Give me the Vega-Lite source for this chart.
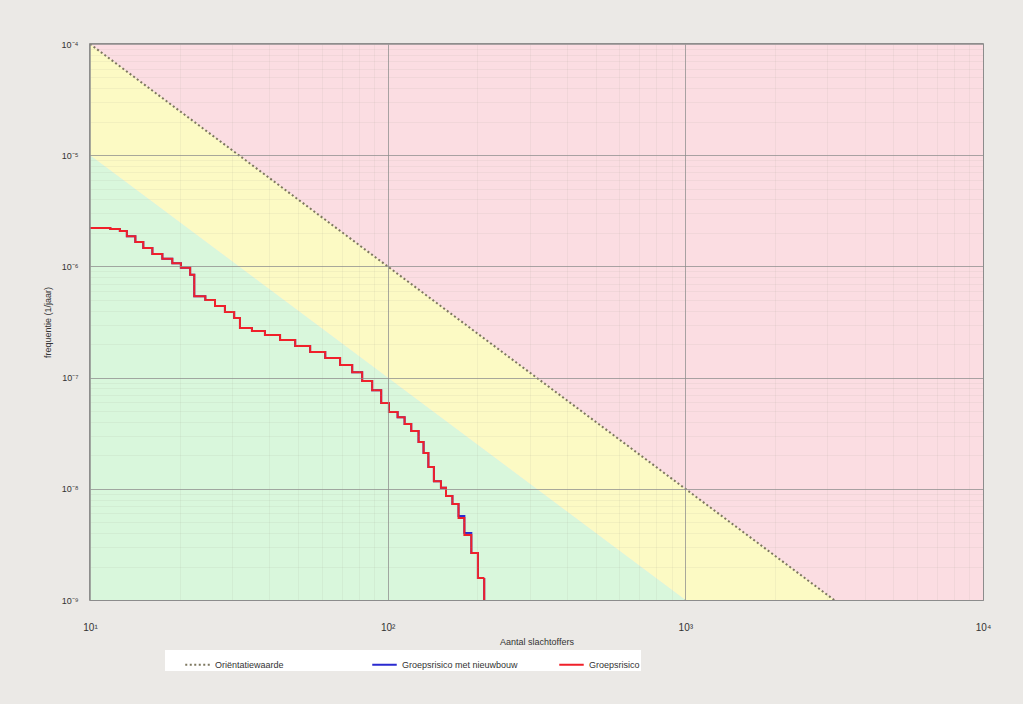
{
  "$schema": "https://vega.github.io/schema/vega-lite/v6.json",
  "width": 893,
  "height": 556,
  "autosize": {"type": "none"},
  "padding": {"left": 90, "top": 44, "right": 40, "bottom": 104},
  "background": "#ebe9e6",
  "config": {
    "font": "Liberation Sans",
    "view": {"stroke": "#6f6f6f", "strokeWidth": 1.5},
    "axis": {"labelFont": "Liberation Sans", "titleFont": "Liberation Sans"}
  },
  "datasets": {
    "zones": [
      {"zone": "onacceptabel", "N": 10, "lo": 1e-4, "hi": 1e-4},
      {"zone": "onacceptabel", "N": 10000, "lo": 1e-10, "hi": 1e-4},
      {"zone": "tussen", "N": 10, "lo": 1e-5, "hi": 1e-4},
      {"zone": "tussen", "N": 10000, "lo": 1e-11, "hi": 1e-10},
      {"zone": "laag", "N": 10, "lo": 1e-12, "hi": 1e-5},
      {"zone": "laag", "N": 10000, "lo": 1e-12, "hi": 1e-11}
    ],
    "guide": [
      {"series": "Oriëntatiewaarde", "N": 10, "F": 1e-4},
      {"series": "Oriëntatiewaarde", "N": 10000, "F": 1e-10}
    ],
    "lines": [
      {"series": "Groepsrisico met nieuwbouw", "N": 10, "F": 2.21e-6},
      {"series": "Groepsrisico met nieuwbouw", "N": 11.7, "F": 2.17e-6},
      {"series": "Groepsrisico met nieuwbouw", "N": 12.6, "F": 2.08e-6},
      {"series": "Groepsrisico met nieuwbouw", "N": 13.3, "F": 1.87e-6},
      {"series": "Groepsrisico met nieuwbouw", "N": 14.2, "F": 1.66e-6},
      {"series": "Groepsrisico met nieuwbouw", "N": 15.1, "F": 1.46e-6},
      {"series": "Groepsrisico met nieuwbouw", "N": 16.2, "F": 1.29e-6},
      {"series": "Groepsrisico met nieuwbouw", "N": 17.5, "F": 1.17e-6},
      {"series": "Groepsrisico met nieuwbouw", "N": 18.9, "F": 1.07e-6},
      {"series": "Groepsrisico met nieuwbouw", "N": 20.2, "F": 9.7e-7},
      {"series": "Groepsrisico met nieuwbouw", "N": 21.7, "F": 8.4e-7},
      {"series": "Groepsrisico met nieuwbouw", "N": 22.4, "F": 5.4e-7},
      {"series": "Groepsrisico met nieuwbouw", "N": 24.4, "F": 4.99e-7},
      {"series": "Groepsrisico met nieuwbouw", "N": 26.3, "F": 4.41e-7},
      {"series": "Groepsrisico met nieuwbouw", "N": 28.4, "F": 3.89e-7},
      {"series": "Groepsrisico met nieuwbouw", "N": 30.5, "F": 3.44e-7},
      {"series": "Groepsrisico met nieuwbouw", "N": 31.9, "F": 2.79e-7},
      {"series": "Groepsrisico met nieuwbouw", "N": 35.0, "F": 2.62e-7},
      {"series": "Groepsrisico met nieuwbouw", "N": 38.7, "F": 2.42e-7},
      {"series": "Groepsrisico met nieuwbouw", "N": 43.5, "F": 2.18e-7},
      {"series": "Groepsrisico met nieuwbouw", "N": 48.9, "F": 1.92e-7},
      {"series": "Groepsrisico met nieuwbouw", "N": 54.9, "F": 1.70e-7},
      {"series": "Groepsrisico met nieuwbouw", "N": 61.7, "F": 1.50e-7},
      {"series": "Groepsrisico met nieuwbouw", "N": 69.2, "F": 1.30e-7},
      {"series": "Groepsrisico met nieuwbouw", "N": 76.0, "F": 1.12e-7},
      {"series": "Groepsrisico met nieuwbouw", "N": 82.1, "F": 9.3e-8},
      {"series": "Groepsrisico met nieuwbouw", "N": 88.7, "F": 7.7e-8},
      {"series": "Groepsrisico met nieuwbouw", "N": 95.1, "F": 5.9e-8},
      {"series": "Groepsrisico met nieuwbouw", "N": 101, "F": 4.9e-8},
      {"series": "Groepsrisico met nieuwbouw", "N": 108, "F": 4.4e-8},
      {"series": "Groepsrisico met nieuwbouw", "N": 114, "F": 3.83e-8},
      {"series": "Groepsrisico met nieuwbouw", "N": 120, "F": 3.31e-8},
      {"series": "Groepsrisico met nieuwbouw", "N": 127, "F": 2.64e-8},
      {"series": "Groepsrisico met nieuwbouw", "N": 132, "F": 2.10e-8},
      {"series": "Groepsrisico met nieuwbouw", "N": 137, "F": 1.57e-8},
      {"series": "Groepsrisico met nieuwbouw", "N": 143, "F": 1.17e-8},
      {"series": "Groepsrisico met nieuwbouw", "N": 151, "F": 1.02e-8},
      {"series": "Groepsrisico met nieuwbouw", "N": 157, "F": 8.6e-9},
      {"series": "Groepsrisico met nieuwbouw", "N": 165, "F": 7.3e-9},
      {"series": "Groepsrisico met nieuwbouw", "N": 173, "F": 5.7e-9},
      {"series": "Groepsrisico met nieuwbouw", "N": 181, "F": 4.0e-9},
      {"series": "Groepsrisico met nieuwbouw", "N": 191, "F": 2.65e-9},
      {"series": "Groepsrisico met nieuwbouw", "N": 201, "F": 1.58e-9},
      {"series": "Groepsrisico met nieuwbouw", "N": 211, "F": 5e-10},
      {"series": "Groepsrisico", "N": 10, "F": 2.21e-6},
      {"series": "Groepsrisico", "N": 11.7, "F": 2.17e-6},
      {"series": "Groepsrisico", "N": 12.6, "F": 2.08e-6},
      {"series": "Groepsrisico", "N": 13.3, "F": 1.87e-6},
      {"series": "Groepsrisico", "N": 14.2, "F": 1.66e-6},
      {"series": "Groepsrisico", "N": 15.1, "F": 1.46e-6},
      {"series": "Groepsrisico", "N": 16.2, "F": 1.29e-6},
      {"series": "Groepsrisico", "N": 17.5, "F": 1.17e-6},
      {"series": "Groepsrisico", "N": 18.9, "F": 1.07e-6},
      {"series": "Groepsrisico", "N": 20.2, "F": 9.7e-7},
      {"series": "Groepsrisico", "N": 21.7, "F": 8.4e-7},
      {"series": "Groepsrisico", "N": 22.4, "F": 5.4e-7},
      {"series": "Groepsrisico", "N": 24.4, "F": 4.99e-7},
      {"series": "Groepsrisico", "N": 26.3, "F": 4.41e-7},
      {"series": "Groepsrisico", "N": 28.4, "F": 3.89e-7},
      {"series": "Groepsrisico", "N": 30.5, "F": 3.44e-7},
      {"series": "Groepsrisico", "N": 31.9, "F": 2.79e-7},
      {"series": "Groepsrisico", "N": 35.0, "F": 2.62e-7},
      {"series": "Groepsrisico", "N": 38.7, "F": 2.42e-7},
      {"series": "Groepsrisico", "N": 43.5, "F": 2.18e-7},
      {"series": "Groepsrisico", "N": 48.9, "F": 1.92e-7},
      {"series": "Groepsrisico", "N": 54.9, "F": 1.70e-7},
      {"series": "Groepsrisico", "N": 61.7, "F": 1.50e-7},
      {"series": "Groepsrisico", "N": 69.2, "F": 1.30e-7},
      {"series": "Groepsrisico", "N": 76.0, "F": 1.12e-7},
      {"series": "Groepsrisico", "N": 82.1, "F": 9.3e-8},
      {"series": "Groepsrisico", "N": 88.7, "F": 7.7e-8},
      {"series": "Groepsrisico", "N": 95.1, "F": 5.9e-8},
      {"series": "Groepsrisico", "N": 101, "F": 4.9e-8},
      {"series": "Groepsrisico", "N": 108, "F": 4.4e-8},
      {"series": "Groepsrisico", "N": 114, "F": 3.83e-8},
      {"series": "Groepsrisico", "N": 120, "F": 3.31e-8},
      {"series": "Groepsrisico", "N": 127, "F": 2.64e-8},
      {"series": "Groepsrisico", "N": 132, "F": 2.10e-8},
      {"series": "Groepsrisico", "N": 137, "F": 1.57e-8},
      {"series": "Groepsrisico", "N": 143, "F": 1.17e-8},
      {"series": "Groepsrisico", "N": 151, "F": 1.02e-8},
      {"series": "Groepsrisico", "N": 157, "F": 8.6e-9},
      {"series": "Groepsrisico", "N": 165, "F": 7.3e-9},
      {"series": "Groepsrisico", "N": 173, "F": 5.46e-9},
      {"series": "Groepsrisico", "N": 181, "F": 3.84e-9},
      {"series": "Groepsrisico", "N": 191, "F": 2.65e-9},
      {"series": "Groepsrisico", "N": 201, "F": 1.58e-9},
      {"series": "Groepsrisico", "N": 211, "F": 5e-10}
    ]
  },
  "resolve": {"axis": {"x": "independent", "y": "independent"}},
  "layer": [
    {
      "data": {"name": "zones"},
      "transform": [{"filter": "datum.zone == 'onacceptabel'"}],
      "mark": {"type": "area", "clip": true, "color": "#fbdde2", "opacity": 1},
      "encoding": {
        "x": {"field": "N", "type": "quantitative", "scale": {"type": "log", "domain": [10, 10000], "nice": false},
              "axis": {"orient": "bottom", "values": [20,30,40,50,60,70,80,90,200,300,400,500,600,700,800,900,2000,3000,4000,5000,6000,7000,8000,9000],
                       "labels": false, "ticks": false, "domain": false, "title": null, "grid": true, "gridColor": "#9a9a8a", "gridOpacity": 0.1, "gridWidth": 1, "zindex": 1}},
        "y": {"field": "lo", "type": "quantitative", "scale": {"type": "log", "domain": [1e-9, 1e-4], "nice": false},
              "axis": {"orient": "left", "values": [2e-9,3e-9,4e-9,5e-9,6e-9,7e-9,8e-9,9e-9,2e-8,3e-8,4e-8,5e-8,6e-8,7e-8,8e-8,9e-8,2e-7,3e-7,4e-7,5e-7,6e-7,7e-7,8e-7,9e-7,2e-6,3e-6,4e-6,5e-6,6e-6,7e-6,8e-6,9e-6,2e-5,3e-5,4e-5,5e-5,6e-5,7e-5,8e-5,9e-5],
                       "labels": false, "ticks": false, "domain": false, "title": null, "grid": true, "gridColor": "#9a9a8a", "gridOpacity": 0.1, "gridWidth": 1, "zindex": 1}},
        "y2": {"field": "hi"}
      }
    },
    {
      "data": {"name": "zones"},
      "transform": [{"filter": "datum.zone == 'tussen'"}],
      "mark": {"type": "area", "clip": true, "color": "#fcfac4", "opacity": 1},
      "encoding": {
        "x": {"field": "N", "type": "quantitative",
              "axis": {"orient": "bottom", "values": [10, 100, 1000, 10000],
                       "labelExpr": "['10¹','10²','10³','10⁴'][round(log(datum.value)/LN10)-1]",
                       "labelFlush": false, "labelOverlap": false, "labelFontSize": 10, "labelColor": "#333333",
                       "labelPadding": 22, "ticks": false, "domain": false,
                       "title": "Aantal slachtoffers", "titleFontSize": 9, "titleFontWeight": "normal", "titleColor": "#333333",
                       "titleY": 37, "titleBaseline": "top",
                       "grid": true, "gridColor": "#8c8c8c", "gridOpacity": 0.75, "gridWidth": 1, "zindex": 1}},
        "y": {"field": "lo", "type": "quantitative",
              "axis": {"orient": "left", "values": [1e-9, 1e-8, 1e-7, 1e-6, 1e-5, 1e-4],
                       "labelExpr": "['10⁻⁹','10⁻⁸','10⁻⁷','10⁻⁶','10⁻⁵','10⁻⁴'][round(log(datum.value)/LN10)+9]",
                       "labelOverlap": false, "labelFlush": false, "labelFontSize": 9, "labelColor": "#333333",
                       "labelPadding": 12, "ticks": false, "domain": false,
                       "title": "frequentie (1/jaar)", "titleFontSize": 9, "titleFontWeight": "normal", "titleColor": "#333333",
                       "titleX": -38, "titleBaseline": "bottom",
                       "grid": true, "gridColor": "#8c8c8c", "gridOpacity": 0.75, "gridWidth": 1, "zindex": 1}},
        "y2": {"field": "hi"}
      }
    },
    {
      "data": {"name": "zones"},
      "transform": [{"filter": "datum.zone == 'laag'"}],
      "mark": {"type": "area", "clip": true, "color": "#d9f7dc", "opacity": 1},
      "encoding": {
        "x": {"field": "N", "type": "quantitative", "axis": null},
        "y": {"field": "lo", "type": "quantitative", "axis": null},
        "y2": {"field": "hi"}
      }
    },
    {
      "data": {"name": "guide"},
      "mark": {"type": "line", "clip": true, "strokeWidth": 2},
      "encoding": {
        "x": {"field": "N", "type": "quantitative", "axis": null},
        "y": {"field": "F", "type": "quantitative", "axis": null},
        "color": {"field": "series", "type": "nominal",
                  "scale": {"domain": ["Oriëntatiewaarde", "Groepsrisico met nieuwbouw", "Groepsrisico"], "range": ["#7d775f", "#2a2ad0", "#f0202a"]},
                  "legend": {"orient": "none", "legendX": 75, "legendY": 606, "direction": "horizontal", "title": null,
                             "fillColor": "#ffffff", "padding": 1, "gridAlign": "all", "columnPadding": 22,
                             "symbolType": "stroke", "symbolSize": 600, "symbolStrokeWidth": 2, "symbolOffset": 18,
                             "labelFontSize": 9, "labelColor": "#333333", "labelLimit": 300}},
        "strokeDash": {"field": "series", "type": "nominal",
                       "scale": {"domain": ["Oriëntatiewaarde", "Groepsrisico met nieuwbouw", "Groepsrisico"], "range": [[2, 2.5], [1, 0], [1, 0]]},
                       "legend": null}
      }
    },
    {
      "data": {"name": "lines"},
      "mark": {"type": "line", "clip": true, "interpolate": "step-after", "strokeWidth": 2},
      "encoding": {
        "x": {"field": "N", "type": "quantitative", "axis": null},
        "y": {"field": "F", "type": "quantitative", "axis": null},
        "color": {"field": "series", "type": "nominal"},
        "strokeDash": {"field": "series", "type": "nominal"}
      }
    }
  ]
}
